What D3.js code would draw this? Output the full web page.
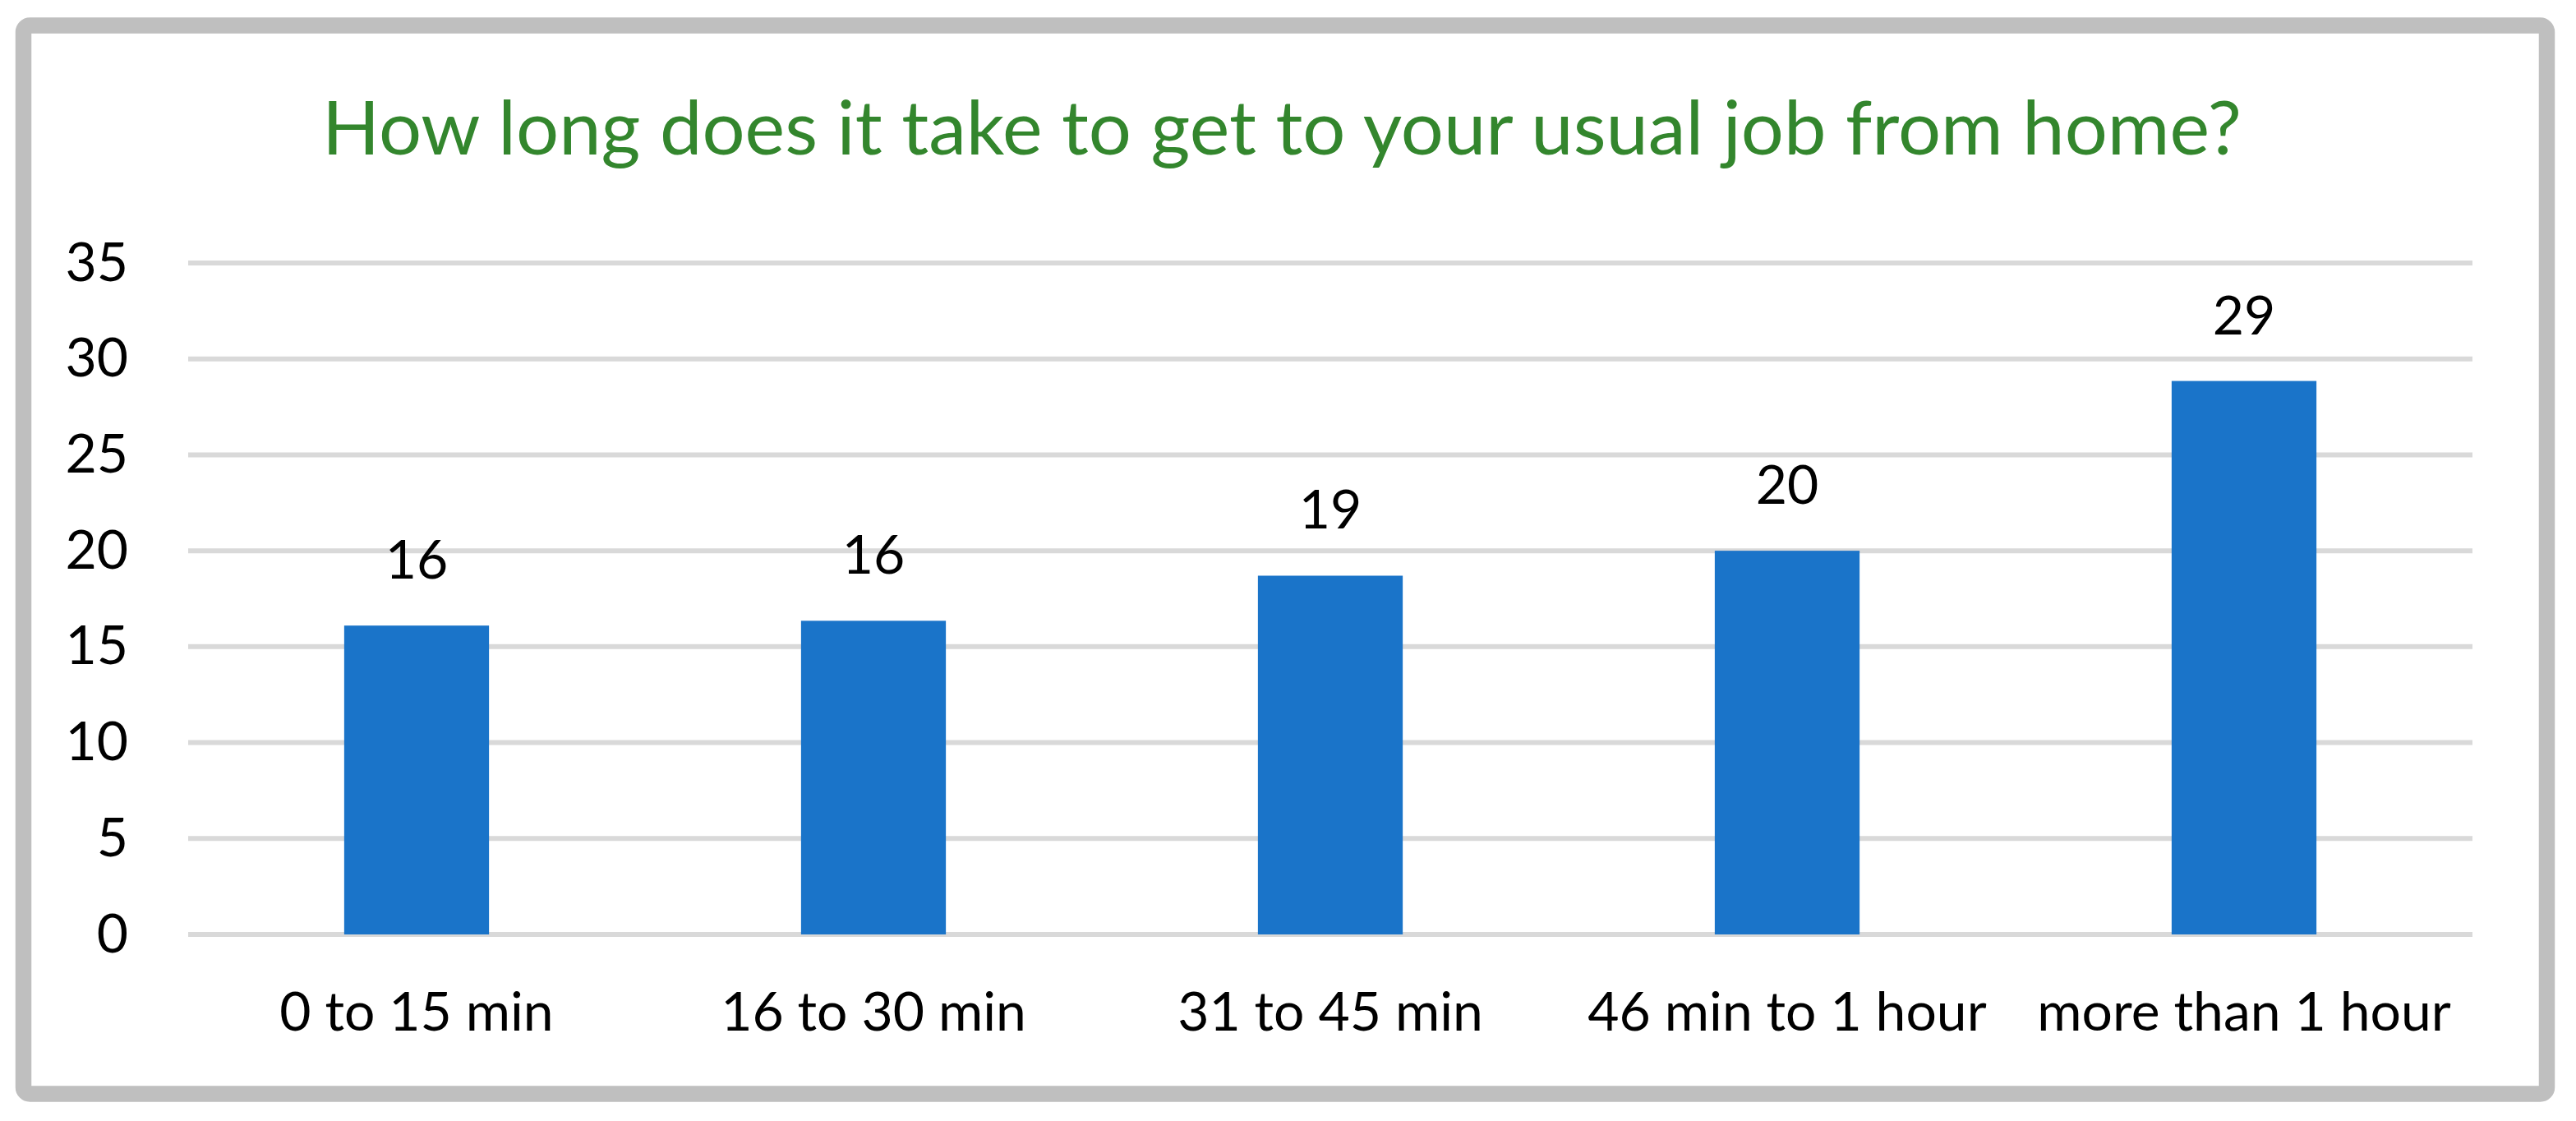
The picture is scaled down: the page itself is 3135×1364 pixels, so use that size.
<!DOCTYPE html>
<html>
<head>
<meta charset="utf-8">
<script src="https://cdn.jsdelivr.net/npm/d3@7"></script>
<style>
  body { margin: 0; background: #ffffff; }
  svg { display: block; }
</style>
</head>
<body>
<script>
// dati del grafico
var categories = ["0 to 15 min", "16 to 30 min", "31 to 45 min", "46 min to 1 hour", "more than 1 hour"];
var values = [16.1, 16.35, 18.7, 20.0, 28.85];
var yTicks = [0, 5, 10, 15, 20, 25, 30, 35];
var title = "How long does it take to get to your usual job from home?";

var width = 3135, height = 1364;
var font = "Lato, 'Open Sans', sans-serif";
var fontSize = 66;

var svg = d3.select("body")
    .append("svg")
    .attr("width", width)
    .attr("height", height);

svg.append("rect")
    .attr("width", width)
    .attr("height", height)
    .attr("fill", "#ffffff");

// cornice grigia
svg.append("rect")
    .attr("x", 28.5)
    .attr("y", 31)
    .attr("width", 3071)
    .attr("height", 1300)
    .attr("rx", 8)
    .attr("fill", "none")
    .attr("stroke", "#bfbfbf")
    .attr("stroke-width", 19.5);

// titolo
svg.append("text")
    .attr("x", 1560)
    .attr("y", 188)
    .attr("text-anchor", "middle")
    .attr("font-family", font)
    .attr("font-size", 92)
    .attr("fill", "#33862d")
    .text(title);

var x = d3.scaleBand()
    .domain(categories)
    .range([229, 3009])
    .paddingInner(0.683)
    .paddingOuter(0.683 / 2);

var y = d3.scaleLinear()
    .domain([0, 35])
    .range([1137, 320]);

// griglia orizzontale
svg.append("g")
    .selectAll("line")
    .data(yTicks)
    .enter()
    .append("line")
    .attr("x1", 229)
    .attr("x2", 3009)
    .attr("y1", function (d) { return y(d); })
    .attr("y2", function (d) { return y(d); })
    .attr("stroke", "#d9d9d9")
    .attr("stroke-width", 6);

// asse y (solo etichette)
var yAxis = svg.append("g")
    .attr("transform", "translate(229,0)")
    .call(d3.axisLeft(y).tickValues(yTicks).tickSize(0).tickPadding(73));
yAxis.select(".domain").remove();
yAxis.selectAll("text")
    .attr("font-family", font)
    .attr("font-size", fontSize)
    .attr("fill", "#000000");

// asse x (solo etichette)
var xAxis = svg.append("g")
    .attr("transform", "translate(0,1137)")
    .call(d3.axisBottom(x).tickSize(0).tickPadding(70));
xAxis.select(".domain").remove();
xAxis.selectAll("text")
    .attr("font-family", font)
    .attr("font-size", fontSize)
    .attr("fill", "#000000");

// barre
svg.append("g")
    .selectAll("rect")
    .data(values)
    .enter()
    .append("rect")
    .attr("x", function (d, i) { return x(categories[i]); })
    .attr("width", x.bandwidth())
    .attr("y", function (d) { return y(d); })
    .attr("height", function (d) { return y(0) - y(d); })
    .attr("fill", "#1a74c9");

// etichette dei valori
svg.append("g")
    .selectAll("text")
    .data(values)
    .enter()
    .append("text")
    .attr("x", function (d, i) { return x(categories[i]) + x.bandwidth() / 2; })
    .attr("y", function (d) { return y(d) - 57; })
    .attr("text-anchor", "middle")
    .attr("font-family", font)
    .attr("font-size", fontSize)
    .attr("fill", "#000000")
    .text(function (d) { return Math.round(d); });
</script>
</body>
</html>
